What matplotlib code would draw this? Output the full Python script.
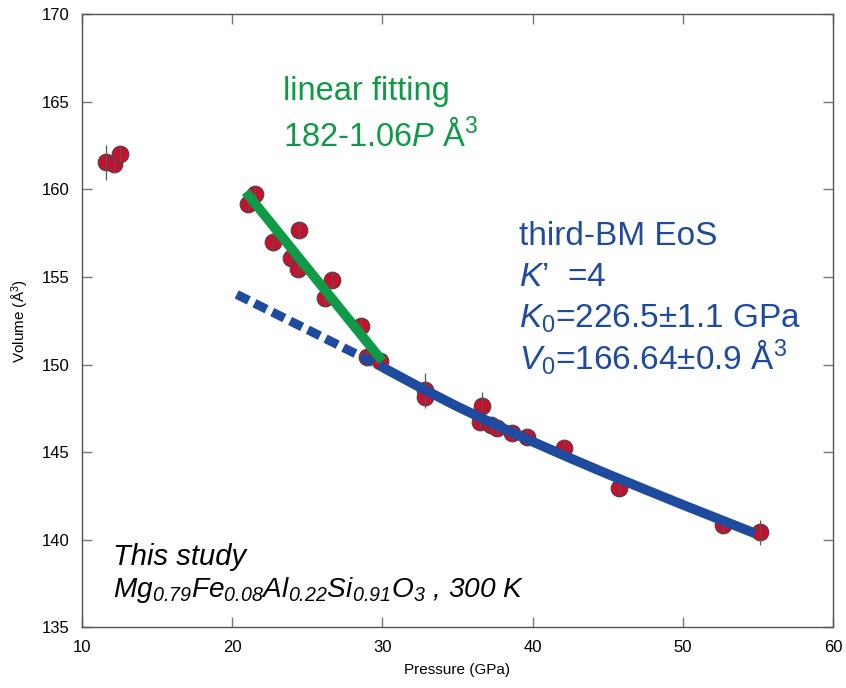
import matplotlib
matplotlib.use("Agg")
import matplotlib.pyplot as plt

plt.rcParams['font.family'] = ['Liberation Sans', 'DejaVu Sans']
plt.rcParams['mathtext.fontset'] = 'custom'
plt.rcParams['mathtext.rm'] = 'Liberation Sans'
plt.rcParams['mathtext.it'] = 'Liberation Sans:italic'
plt.rcParams['mathtext.sf'] = 'Liberation Sans:italic'

# measured points (pressure in GPa, volume in A^3, 1-sigma error)
pressure = [11.58, 12.15, 12.55, 21.05, 21.53, 22.75, 23.93, 24.38, 24.47,
            26.15, 26.65, 28.55, 28.98, 29.87, 32.82, 32.82, 36.53, 36.65,
            37.2, 37.65, 38.6, 39.65, 42.09, 45.75, 52.69, 55.15]
volume = [161.54, 161.42, 162.0, 159.14, 159.71, 157.0, 156.09, 155.45, 157.65,
          153.81, 154.82, 152.21, 150.44, 150.2, 148.54, 148.16, 146.73, 147.64,
          146.54, 146.4, 146.07, 145.84, 145.21, 142.98, 140.83, 140.42]
vol_err = [1.0, 0.4, 0.4, 0.4, 0.4, 0.55, 0.4, 0.4, 0.4,
           0.4, 0.4, 0.4, 0.4, 0.4, 1.0, 0.4, 0.4, 0.8,
           0.4, 0.4, 0.4, 0.4, 0.35, 0.4, 0.4, 0.7]

# linear fit
lin_p = [20.9, 30.0]
lin_v = [159.85, 150.2]

# third-order BM EoS curve
bm_dash_p = [20.3, 25.0, 30.0]
bm_dash_v = [154.0, 152.0, 149.85]
bm_p = [30.0, 32.5, 35.0, 37.5, 40.0, 42.5, 45.0, 47.5, 50.0, 52.5, 54.8]
bm_v = [149.85, 148.7, 147.6, 146.58, 145.6, 144.66, 143.75, 142.87,
        142.0, 141.15, 140.37]

red = '#C8102E'
green = '#0E9A47'
blue = '#1E4B9E'

fig = plt.figure(figsize=(8.46, 6.88), dpi=100)
ax = fig.add_axes([0.0969, 0.0880, 0.8877, 0.8917])

ax.plot(pressure, volume, 'o', ms=12, mfc=red, mec='#444444', mew=0.8,
        zorder=3)
ax.errorbar(pressure, volume, yerr=vol_err, fmt='none', ecolor='#555555',
            elinewidth=0.9, capsize=0, zorder=4)

ax.plot(lin_p, lin_v, color=green, lw=7, solid_capstyle='butt', zorder=5)
ax.plot(bm_dash_p, bm_dash_v, color=blue, lw=6.5, dashes=(1.5, 0.7),
        dash_capstyle='butt', zorder=5)
ax.plot(bm_p, bm_v, color=blue, lw=7, solid_capstyle='butt',
        solid_joinstyle='round', zorder=5)

ax.set_xlim(10, 60)
ax.set_ylim(135, 170)
ax.set_xticks([10, 20, 30, 40, 50, 60])
ax.set_yticks([135, 140, 145, 150, 155, 160, 165, 170])
ax.tick_params(direction='in', length=7, width=1, color='#777777',
               top=True, right=True, labelsize=12, pad=9)
for s in ax.spines.values():
    s.set_color('#555555')
    s.set_linewidth(1)

ax.set_xlabel('Pressure (GPa)', fontsize=11, labelpad=6)
ax.set_ylabel('Volume (Å$^3$)', fontsize=11, labelpad=8)

ax.text(0.268, 0.859, 'linear fitting', transform=ax.transAxes,
        color=green, fontsize=23.5)
ax.text(0.268, 0.785, '182-1.06$P$ Å$^3$', transform=ax.transAxes,
        color=green, fontsize=23.5)

blue_lines = ['third-BM EoS', '$K$’  =4', '$K_0$=226.5±1.1 GPa',
              '$V_0$=166.64±0.9 Å$^3$']
for i, t in enumerate(blue_lines):
    ax.text(0.582, 0.624 - i * 0.0680, t, transform=ax.transAxes,
            color=blue, fontsize=24)

ax.text(0.041, 0.102, 'This study', transform=ax.transAxes,
        fontsize=21, style='italic')
ax.text(0.041, 0.050,
        r'$\mathsf{Mg_{0.79}Fe_{0.08}Al_{0.22}Si_{0.91}O_3}$ , 300 K',
        transform=ax.transAxes, fontsize=20.2, style='italic')

fig.savefig('out.png', dpi=100)
